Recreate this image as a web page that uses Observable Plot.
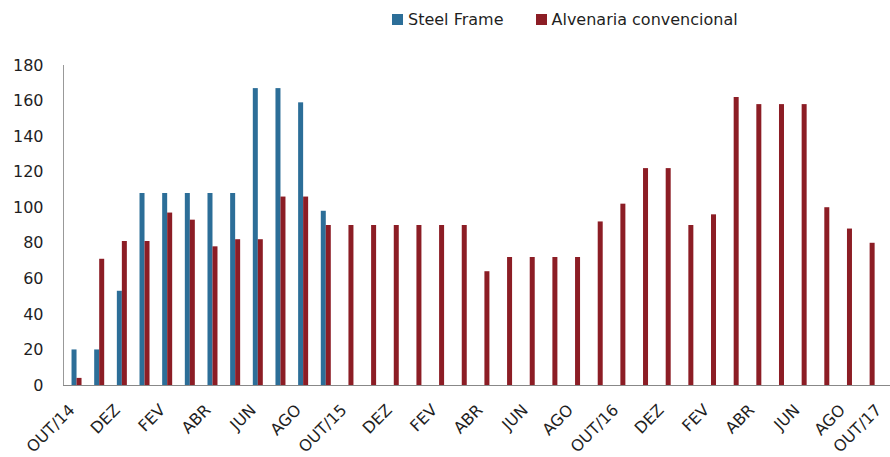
<!DOCTYPE html>
<html>
<head>
<meta charset="utf-8">
<script src="https://cdn.jsdelivr.net/npm/d3@7"></script>
<script src="https://cdn.jsdelivr.net/npm/@observablehq/plot@0.6"></script>
<style>
  html, body { margin: 0; padding: 0; background: #fff; }
  #wrap { width: 890px; height: 457px; overflow: hidden; font-family: "DejaVu Sans", sans-serif; color: #1f1f1f; }
  #legend { height: 35px; display: flex; align-items: center; padding-left: 392px; box-sizing: border-box; padding-top: 4px; font-size: 16px; }
  .item { display: flex; align-items: center; margin-right: 32px; }
  .sw { width: 11px; height: 11px; margin-right: 5px; }
</style>
</head>
<body>
<div id="wrap">
  <div id="legend"></div>
  <div id="chart"></div>
</div>
<script>
const months = ["OUT/14","NOV","DEZ","JAN","FEV","MAR","ABR","MAI","JUN","JUL","AGO","SET",
                "OUT/15","NOV","DEZ","JAN","FEV","MAR","ABR","MAI","JUN","JUL","AGO","SET",
                "OUT/16","NOV","DEZ","JAN","FEV","MAR","ABR","MAI","JUN","JUL","AGO","SET",
                "OUT/17"];
const steelFrame = [20, 20, 53, 108, 108, 108, 108, 108, 167, 167, 159, 98];
const alvenaria = [4, 71, 81, 81, 97, 93, 78, 82, 82, 106, 106, 90,
                   90, 90, 90, 90, 90, 90, 64, 72, 72, 72, 72, 92,
                   102, 122, 122, 90, 96, 162, 158, 158, 158, 100, 88, 80];
const seriesNames = ["Steel Frame", "Alvenaria convencional"];
const seriesColors = ["#2c6e98", "#8c1d25"];
const yTicks = [0, 20, 40, 60, 80, 100, 120, 140, 160, 180];
const xTickIdx = d3.range(0, months.length, 2);
const lastIdx = months.length - 1;

const steelRows = steelFrame.map((v, i) => ({i, v}));
const alvRows = alvenaria.map((v, i) => ({i, v}));

// legend
const legend = document.getElementById("legend");
seriesNames.forEach((n, k) => {
  const it = document.createElement("div");
  it.className = "item";
  const sw = document.createElement("span");
  sw.className = "sw";
  sw.style.background = seriesColors[k];
  const t = document.createElement("span");
  t.textContent = n;
  it.appendChild(sw); it.appendChild(t);
  legend.appendChild(it);
});

const step = 22.66;
const x0 = 65.2;
const barW = 5;
const half = step / 2;

const chart = Plot.plot({
  width: 890,
  height: 422,
  marginTop: 30,
  marginBottom: 72,
  marginLeft: 63,
  marginRight: 0,
  style: {fontFamily: "DejaVu Sans, sans-serif", fontSize: "16px", color: "#1f1f1f", background: "#fff"},
  x: {type: "band", domain: d3.range(months.length), range: [x0, x0 + step * months.length], padding: 0, round: false},
  y: {domain: [0, 180], range: [350, 30]},
  marks: [
    Plot.barY(steelRows, {x: "i", y: "v", fill: seriesColors[0], insetLeft: half - barW, insetRight: half}),
    Plot.barY(alvRows, {x: "i", y: "v", fill: seriesColors[1], insetLeft: half, insetRight: half - barW}),
    Plot.frame({anchor: "left", stroke: "#999"}),
    Plot.frame({anchor: "bottom", stroke: "#888"}),
    Plot.axisY({ticks: yTicks, tickSize: 0, tickPadding: 20, fontSize: 16, label: null}),
    Plot.axisX({ticks: xTickIdx.filter(i => i !== lastIdx), tickFormat: i => months[i], tickRotate: -45, tickSize: 0, tickPadding: 22, dx: -5, fontSize: 16, label: null}),
    Plot.axisX({ticks: [lastIdx], tickFormat: i => months[i], tickRotate: -45, tickSize: 0, tickPadding: 22, dx: -14, fontSize: 16, label: null})
  ]
});
document.getElementById("chart").appendChild(chart);
</script>
</body>
</html>
